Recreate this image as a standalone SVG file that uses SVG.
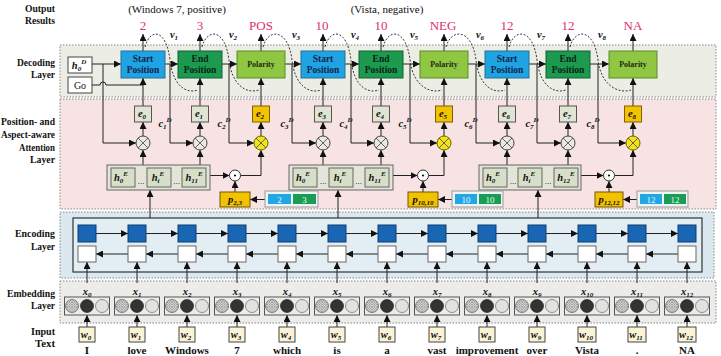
<svg xmlns="http://www.w3.org/2000/svg" xmlns:xlink="http://www.w3.org/1999/xlink" width="721" height="356" viewBox="0 0 721 356">
<style>
text{font-family:"Liberation Serif","Times New Roman",serif;fill:#111}
.lab{font-weight:bold;font-size:11px;text-anchor:end}
.out{font-size:13px;fill:#e0306a;text-anchor:middle}
.cap{font-size:11px;text-anchor:middle}
.bt{font-weight:bold;font-size:9.5px;text-anchor:middle;fill:#13254d}
.pt{font-weight:bold;font-size:8px;text-anchor:middle;fill:#1c2a10}
.m{font-style:italic;font-weight:bold;font-size:10.5px;text-anchor:middle}
.s{font-size:7px}
.wd{font-weight:bold;font-size:11px;text-anchor:middle}
.ln{stroke:#222;stroke-width:1;fill:none}
.ar{stroke:#222;stroke-width:1;fill:none;marker-end:url(#ah)}
.dc{stroke:#222;stroke-width:0.9;fill:none;stroke-dasharray:2 1.6}
.st{fill:#1fa3e2;stroke:#2b6f95}
.en{fill:#1c9b50;stroke:#145f33}
.po{fill:#8fc742;stroke:#5b8a27}
.eb{fill:#dfe4d3;stroke:#555}
.ey{fill:#f4c300;stroke:#7a6200}
.ot{fill:#e9e9e1;stroke:#444}
.oy{fill:#f2e21a;stroke:#6e6400}
.hg{fill:#e4e4d8;stroke:#666}
.hb{fill:#d8dfc8;stroke:#666}
.pb{fill:#f2c200;stroke:#6e5a00}
.layer{stroke:#888;stroke-width:1;stroke-dasharray:1.5 1.5}
</style>
<defs>
<marker id="ah" viewBox="0 0 10 10" refX="10" refY="5" markerWidth="7" markerHeight="7" orient="auto" markerUnits="userSpaceOnUse"><path d="M0,0 L10,5 L0,10 z" fill="#111"/></marker>
<pattern id="hatch" width="2.5" height="2.5" patternUnits="userSpaceOnUse"><rect width="2.5" height="2.5" fill="#e4e4e4"/><path d="M0,0 L2.5,2.5 M2.5,0 L0,2.5" stroke="#777" stroke-width="0.5"/></pattern>
<g id="emb"><rect x="-22.5" y="0" width="45" height="18" fill="#ecece8" stroke="#555"/><circle cx="-15" cy="9" r="6.5" fill="url(#hatch)" stroke="#555" stroke-width="0.7"/><circle cx="0" cy="9" r="6.5" fill="#333" stroke="#222" stroke-width="0.7"/><circle cx="15" cy="9" r="6.5" fill="#e2e2e2" stroke="#666" stroke-width="0.7"/></g>
<g id="ox"><path d="M-5,-5 L5,5 M5,-5 L-5,5" stroke="#555" stroke-width="0.9"/></g>
</defs>

<g id="layers">
<rect class="layer" x="60" y="45" width="656" height="52" fill="#eceee5"/>
<rect class="layer" x="60" y="99" width="656" height="110" fill="#f7e3e3"/>
<rect class="layer" x="60" y="212" width="654" height="66" fill="#dbe8f0"/>
<rect x="73" y="218" width="629" height="54" fill="#e3eef4" stroke="#333" stroke-width="1.2"/>
<rect class="layer" x="60" y="281" width="656" height="42" fill="#ececea"/>
</g>

<g id="labels">
<text class="lab" x="55" y="12" textLength="30" lengthAdjust="spacingAndGlyphs">Output</text>
<text class="lab" x="55" y="24" textLength="30" lengthAdjust="spacingAndGlyphs">Results</text>
<text class="lab" x="55" y="66" textLength="38" lengthAdjust="spacingAndGlyphs">Decoding</text>
<text class="lab" x="55" y="78" textLength="24" lengthAdjust="spacingAndGlyphs">Layer</text>
<text class="lab" x="55" y="125" textLength="54" lengthAdjust="spacingAndGlyphs">Position- and</text>
<text class="lab" x="55" y="138" textLength="54" lengthAdjust="spacingAndGlyphs">Aspect-aware</text>
<text class="lab" x="55" y="151" textLength="36" lengthAdjust="spacingAndGlyphs">Attention</text>
<text class="lab" x="55" y="163" textLength="25" lengthAdjust="spacingAndGlyphs">Layer</text>
<text class="lab" x="55" y="237" textLength="40" lengthAdjust="spacingAndGlyphs">Encoding</text>
<text class="lab" x="55" y="250" textLength="24" lengthAdjust="spacingAndGlyphs">Layer</text>
<text class="lab" x="55" y="297" textLength="48" lengthAdjust="spacingAndGlyphs">Embedding</text>
<text class="lab" x="55" y="309" textLength="24" lengthAdjust="spacingAndGlyphs">Layer</text>
<text class="lab" x="55" y="335" textLength="24" lengthAdjust="spacingAndGlyphs">Input</text>
<text class="lab" x="55" y="347" textLength="20" lengthAdjust="spacingAndGlyphs">Text</text>
<text class="cap" x="177" y="13">(Windows 7, positive)</text>
<text class="cap" x="387" y="13">(Vista, negative)</text>
<text class="out" x="143" y="30">2</text>
<text class="out" x="200" y="30">3</text>
<text class="out" x="261" y="30">POS</text>
<text class="out" x="322" y="30">10</text>
<text class="out" x="381" y="30">10</text>
<text class="out" x="443" y="30">NEG</text>
<text class="out" x="507" y="30">12</text>
<text class="out" x="568" y="30">12</text>
<text class="out" x="633" y="30">NA</text>
</g>

<g id="connectors">
<path class="ar" d="M143,51 V34"/><path class="ar" d="M200,51 V34"/><path class="ar" d="M261,51 V34"/><path class="ar" d="M323,51 V34"/><path class="ar" d="M381,51 V34"/><path class="ar" d="M444,51 V34"/><path class="ar" d="M507,51 V34"/><path class="ar" d="M568,51 V34"/><path class="ar" d="M633,51 V34"/>
<path class="ar" d="M92,64 H121"/><path class="ar" d="M165,64 H178"/><path class="ar" d="M222,64 H237"/><path class="ar" d="M285,64 H301"/><path class="ar" d="M345,64 H359"/><path class="ar" d="M403,64 H420"/><path class="ar" d="M468,64 H485"/><path class="ar" d="M529,64 H546"/><path class="ar" d="M590,64 H609"/>
<path class="ln" d="M92,85 H100 A3,3 0 0 1 106,85 H143"/>
<path class="ar" d="M103,64 V143 H136"/>
<path class="ar" d="M170,64 V143 H193"/>
<path class="ar" d="M229,64 V143 H254"/>
<path class="ar" d="M292,64 V143 H316"/>
<path class="ar" d="M351,64 V143 H374"/>
<path class="ar" d="M410,64 V143 H437"/>
<path class="ar" d="M476,64 V143 H500"/>
<path class="ar" d="M537,64 V143 H561"/>
<path class="ar" d="M598,64 V143 H626"/>
<path class="ar" d="M143,106 V78"/><path class="ar" d="M200,106 V78"/><path class="ar" d="M261,106 V78"/><path class="ar" d="M323,106 V78"/><path class="ar" d="M381,106 V78"/><path class="ar" d="M444,106 V78"/><path class="ar" d="M507,106 V78"/><path class="ar" d="M568,106 V78"/><path class="ar" d="M633,106 V78"/>
<path class="ar" d="M143,136 V122"/><path class="ar" d="M200,136 V122"/><path class="ar" d="M261,136 V122"/><path class="ar" d="M323,136 V122"/><path class="ar" d="M381,136 V122"/><path class="ar" d="M444,136 V122"/><path class="ar" d="M507,136 V122"/><path class="ar" d="M568,136 V122"/><path class="ar" d="M633,136 V122"/>
<path class="ar" d="M143,165 V150"/><path class="ar" d="M200,165 V150"/><path class="ar" d="M323,165 V150"/><path class="ar" d="M381,165 V150"/><path class="ar" d="M507,165 V150"/><path class="ar" d="M568,165 V150"/>
<path class="ar" d="M210,175.5 H229.5"/><path class="ar" d="M393,175.5 H417.5"/><path class="ar" d="M581,175.5 H603.5"/>
<path class="ar" d="M240.5,175.5 H261 V150"/><path class="ar" d="M428.5,175.5 H444 V150"/><path class="ar" d="M614.5,175.5 H633 V150"/>
<path class="ar" d="M235,192 V181"/><path class="ar" d="M423,192 V181"/><path class="ar" d="M609,192 V181"/>
<path class="ar" d="M265,199.5 H250"/><path class="ar" d="M452,199.5 H438"/><path class="ar" d="M637,199.5 H623"/>
<path class="ar" d="M150,218 V190"/><path class="ar" d="M338,218 V190"/><path class="ar" d="M538,218 V190"/>
<path class="ar" d="M96,233.5 H128"/><path class="ar" d="M146,233.5 H178"/><path class="ar" d="M196,233.5 H228"/><path class="ar" d="M246,233.5 H278"/><path class="ar" d="M296,233.5 H328"/><path class="ar" d="M346,233.5 H378"/><path class="ar" d="M396,233.5 H428"/><path class="ar" d="M446,233.5 H478"/><path class="ar" d="M496,233.5 H528"/><path class="ar" d="M546,233.5 H578"/><path class="ar" d="M596,233.5 H628"/><path class="ar" d="M646,233.5 H678"/>
<path class="ar" d="M128,254 H96"/><path class="ar" d="M178,254 H146"/><path class="ar" d="M228,254 H196"/><path class="ar" d="M278,254 H246"/><path class="ar" d="M328,254 H296"/><path class="ar" d="M378,254 H346"/><path class="ar" d="M428,254 H396"/><path class="ar" d="M478,254 H446"/><path class="ar" d="M528,254 H496"/><path class="ar" d="M578,254 H546"/><path class="ar" d="M628,254 H596"/><path class="ar" d="M678,254 H646"/>
<path class="ar" d="M87,283 V262"/><path class="ar" d="M137,283 V262"/><path class="ar" d="M187,283 V262"/><path class="ar" d="M237,283 V262"/><path class="ar" d="M287,283 V262"/><path class="ar" d="M337,283 V262"/><path class="ar" d="M387,283 V262"/><path class="ar" d="M437,283 V262"/><path class="ar" d="M487,283 V262"/><path class="ar" d="M537,283 V262"/><path class="ar" d="M587,283 V262"/><path class="ar" d="M637,283 V262"/><path class="ar" d="M687,283 V262"/>
<path class="ar" d="M87,327 V315"/><path class="ar" d="M137,327 V315"/><path class="ar" d="M187,327 V315"/><path class="ar" d="M237,327 V315"/><path class="ar" d="M287,327 V315"/><path class="ar" d="M337,327 V315"/><path class="ar" d="M387,327 V315"/><path class="ar" d="M437,327 V315"/><path class="ar" d="M487,327 V315"/><path class="ar" d="M537,327 V315"/><path class="ar" d="M587,327 V315"/><path class="ar" d="M637,327 V315"/><path class="ar" d="M687,327 V315"/>
<text class="m" x="165" y="127">c<tspan class="s" dy="2">1</tspan><tspan class="s" dy="-7">D</tspan></text>
<text class="m" x="224" y="127">c<tspan class="s" dy="2">2</tspan><tspan class="s" dy="-7">D</tspan></text>
<text class="m" x="287" y="127">c<tspan class="s" dy="2">3</tspan><tspan class="s" dy="-7">D</tspan></text>
<text class="m" x="346" y="127">c<tspan class="s" dy="2">4</tspan><tspan class="s" dy="-7">D</tspan></text>
<text class="m" x="405" y="127">c<tspan class="s" dy="2">5</tspan><tspan class="s" dy="-7">D</tspan></text>
<text class="m" x="471" y="127">c<tspan class="s" dy="2">6</tspan><tspan class="s" dy="-7">D</tspan></text>
<text class="m" x="532" y="127">c<tspan class="s" dy="2">7</tspan><tspan class="s" dy="-7">D</tspan></text>
<text class="m" x="593" y="127">c<tspan class="s" dy="2">8</tspan><tspan class="s" dy="-7">D</tspan></text>
</g>

<g id="decoder-start">
<rect x="68" y="57" width="24" height="16" fill="#fff" stroke="#444"/>
<text class="m" x="79" y="69">h<tspan class="s" dy="2">0</tspan><tspan class="s" dy="-7">D</tspan></text>
<rect x="68" y="77" width="24" height="16" fill="#fff" stroke="#444"/>
<text x="80" y="89" style="font-size:10px;text-anchor:middle">Go</text>
</g>

<g id="decoder-boxes">
<g id="d1"><rect class="st" x="121" y="51" width="44" height="27"/><text class="bt" x="143" y="62">Start</text><text class="bt" x="143" y="73">Position</text></g>
<g id="d2"><rect class="en" x="178" y="51" width="44" height="27"/><text class="bt" x="200" y="62" style="fill:#0b2414">End</text><text class="bt" x="200" y="73" style="fill:#0b2414">Position</text></g>
<g id="d3"><rect class="po" x="237" y="51" width="48" height="27"/><text class="pt" x="261" y="67">Polarity</text></g>
<g id="d4"><rect class="st" x="301" y="51" width="44" height="27"/><text class="bt" x="323" y="62">Start</text><text class="bt" x="323" y="73">Position</text></g>
<g id="d5"><rect class="en" x="359" y="51" width="44" height="27"/><text class="bt" x="381" y="62" style="fill:#0b2414">End</text><text class="bt" x="381" y="73" style="fill:#0b2414">Position</text></g>
<g id="d6"><rect class="po" x="420" y="51" width="48" height="27"/><text class="pt" x="444" y="67">Polarity</text></g>
<g id="d7"><rect class="st" x="485" y="51" width="44" height="27"/><text class="bt" x="507" y="62">Start</text><text class="bt" x="507" y="73">Position</text></g>
<g id="d8"><rect class="en" x="546" y="51" width="44" height="27"/><text class="bt" x="568" y="62" style="fill:#0b2414">End</text><text class="bt" x="568" y="73" style="fill:#0b2414">Position</text></g>
<g id="d9"><rect class="po" x="609" y="51" width="48" height="27"/><text class="pt" x="633" y="67">Polarity</text></g>
</g>

<g id="v-curves">
<path class="dc" d="M145,47 C150,28 166,28 170,60 C173,86 186,94 198,90"/>
<path class="dc" d="M202,47 C207,28 225,28 229,60 C232,86 247,94 259,90"/>
<path class="dc" d="M263,47 C268,28 288,28 292,60 C295,86 309,94 321,90"/>
<path class="dc" d="M325,47 C330,28 347,28 351,60 C354,86 367,94 379,90"/>
<path class="dc" d="M383,47 C388,28 406,28 410,60 C413,86 430,94 442,90"/>
<path class="dc" d="M446,47 C451,28 472,28 476,60 C479,86 493,94 505,90"/>
<path class="dc" d="M509,47 C514,28 533,28 537,60 C540,86 554,94 566,90"/>
<path class="dc" d="M570,47 C575,28 594,28 598,60 C601,86 619,94 631,90"/>
<text class="m" x="174" y="38">v<tspan class="s" dy="2">1</tspan></text>
<text class="m" x="233" y="38">v<tspan class="s" dy="2">2</tspan></text>
<text class="m" x="296" y="38">v<tspan class="s" dy="2">3</tspan></text>
<text class="m" x="355" y="38">v<tspan class="s" dy="2">4</tspan></text>
<text class="m" x="414" y="38">v<tspan class="s" dy="2">5</tspan></text>
<text class="m" x="480" y="38">v<tspan class="s" dy="2">6</tspan></text>
<text class="m" x="541" y="38">v<tspan class="s" dy="2">7</tspan></text>
<text class="m" x="602" y="38">v<tspan class="s" dy="2">8</tspan></text>
</g>

<g id="e-nodes">
<g id="e0"><rect class="eb" x="134.5" y="106" width="17" height="16"/><text class="m" x="142" y="117">e<tspan class="s" dy="2">0</tspan></text></g>
<g id="e1"><rect class="eb" x="191.5" y="106" width="17" height="16"/><text class="m" x="199" y="117">e<tspan class="s" dy="2">1</tspan></text></g>
<g id="e2"><rect class="ey" x="252.5" y="106" width="17" height="16"/><text class="m" x="260" y="117">e<tspan class="s" dy="2">2</tspan></text></g>
<g id="e3"><rect class="eb" x="314.5" y="106" width="17" height="16"/><text class="m" x="322" y="117">e<tspan class="s" dy="2">3</tspan></text></g>
<g id="e4"><rect class="eb" x="372.5" y="106" width="17" height="16"/><text class="m" x="380" y="117">e<tspan class="s" dy="2">4</tspan></text></g>
<g id="e5"><rect class="ey" x="435.5" y="106" width="17" height="16"/><text class="m" x="443" y="117">e<tspan class="s" dy="2">5</tspan></text></g>
<g id="e6"><rect class="eb" x="498.5" y="106" width="17" height="16"/><text class="m" x="506" y="117">e<tspan class="s" dy="2">6</tspan></text></g>
<g id="e7"><rect class="eb" x="559.5" y="106" width="17" height="16"/><text class="m" x="567" y="117">e<tspan class="s" dy="2">7</tspan></text></g>
<g id="e8"><rect class="ey" x="624.5" y="106" width="17" height="16"/><text class="m" x="632" y="117">e<tspan class="s" dy="2">8</tspan></text></g>
</g>

<g id="otimes">
<g id="x0" transform="translate(143,143)"><circle class="ot" r="7"/><use href="#ox"/></g>
<g id="x1" transform="translate(200,143)"><circle class="ot" r="7"/><use href="#ox"/></g>
<g id="x2" transform="translate(261,143)"><circle class="oy" r="7"/><use href="#ox"/></g>
<g id="x3" transform="translate(323,143)"><circle class="ot" r="7"/><use href="#ox"/></g>
<g id="x4" transform="translate(381,143)"><circle class="ot" r="7"/><use href="#ox"/></g>
<g id="x5" transform="translate(444,143)"><circle class="oy" r="7"/><use href="#ox"/></g>
<g id="x6" transform="translate(507,143)"><circle class="ot" r="7"/><use href="#ox"/></g>
<g id="x7" transform="translate(568,143)"><circle class="ot" r="7"/><use href="#ox"/></g>
<g id="x8" transform="translate(633,143)"><circle class="oy" r="7"/><use href="#ox"/></g>
</g>

<g id="h-group-1">
<rect class="hg" x="107" y="165" width="103" height="25"/>
<rect class="hb" x="111" y="168" width="24" height="19"/><text class="m" x="121" y="181">h<tspan class="s" dy="2">0</tspan><tspan class="s" dy="-7">E</tspan></text>
<text x="141" y="184" style="font-size:9px;text-anchor:middle">...</text>
<rect class="hb" x="147" y="168" width="24" height="19"/><text class="m" x="158" y="181">h<tspan class="s" dy="2">i</tspan><tspan class="s" dy="-7">E</tspan></text>
<text x="176.5" y="184" style="font-size:9px;text-anchor:middle">...</text>
<rect class="hb" x="182" y="168" width="24" height="19"/><text class="m" x="194" y="181">h<tspan class="s" dy="2">11</tspan><tspan class="s" dy="-7">E</tspan></text>
</g>
<g id="h-group-2">
<rect class="hg" x="289" y="165" width="104" height="25"/>
<rect class="hb" x="293" y="168" width="24" height="19"/><text class="m" x="303" y="181">h<tspan class="s" dy="2">0</tspan><tspan class="s" dy="-7">E</tspan></text>
<text x="323" y="184" style="font-size:9px;text-anchor:middle">...</text>
<rect class="hb" x="329" y="168" width="24" height="19"/><text class="m" x="340" y="181">h<tspan class="s" dy="2">i</tspan><tspan class="s" dy="-7">E</tspan></text>
<text x="358.5" y="184" style="font-size:9px;text-anchor:middle">...</text>
<rect class="hb" x="365" y="168" width="24" height="19"/><text class="m" x="377" y="181">h<tspan class="s" dy="2">11</tspan><tspan class="s" dy="-7">E</tspan></text>
</g>
<g id="h-group-3">
<rect class="hg" x="479" y="165" width="102" height="25"/>
<rect class="hb" x="483" y="168" width="24" height="19"/><text class="m" x="493" y="181">h<tspan class="s" dy="2">0</tspan><tspan class="s" dy="-7">E</tspan></text>
<text x="513" y="184" style="font-size:9px;text-anchor:middle">...</text>
<rect class="hb" x="518" y="168" width="24" height="19"/><text class="m" x="529" y="181">h<tspan class="s" dy="2">i</tspan><tspan class="s" dy="-7">E</tspan></text>
<text x="548" y="184" style="font-size:9px;text-anchor:middle">...</text>
<rect class="hb" x="554" y="168" width="24" height="19"/><text class="m" x="566" y="181">h<tspan class="s" dy="2">12</tspan><tspan class="s" dy="-7">E</tspan></text>
</g>

<g id="odots">
<g id="od1"><circle cx="235" cy="175.5" r="5.5" fill="#fff" stroke="#333"/><circle cx="235" cy="175.5" r="1.1" fill="#111"/></g>
<g id="od2"><circle cx="423" cy="175.5" r="5.5" fill="#fff" stroke="#333"/><circle cx="423" cy="175.5" r="1.1" fill="#111"/></g>
<g id="od3"><circle cx="609" cy="175.5" r="5.5" fill="#fff" stroke="#333"/><circle cx="609" cy="175.5" r="1.1" fill="#111"/></g>
</g>

<g id="p-nodes">
<g id="p1"><rect class="pb" x="220" y="192" width="30" height="15"/><text class="m" x="235" y="203">p<tspan class="s" dy="2">2,3</tspan></text></g>
<g id="p2"><rect class="pb" x="408" y="192" width="30" height="15"/><text class="m" x="423" y="203">p<tspan class="s" dy="2">10,10</tspan></text></g>
<g id="p3"><rect class="pb" x="595" y="192" width="28" height="15"/><text class="m" x="609" y="203">p<tspan class="s" dy="2">12,12</tspan></text></g>
</g>

<g id="pairs">
<g id="pair1"><rect x="265" y="191" width="53" height="16" fill="#eef3f3" stroke="#999"/><rect x="268" y="194" width="23" height="10" fill="#22a7e3"/><rect x="293" y="194" width="23" height="10" fill="#1a9c55"/><text x="279.5" y="202.5" style="font-size:9px;text-anchor:middle;fill:#e8f6ff">2</text><text x="304.5" y="202.5" style="font-size:9px;text-anchor:middle;fill:#e8ffee">3</text></g>
<g id="pair2"><rect x="452" y="191" width="51" height="16" fill="#eef3f3" stroke="#999"/><rect x="455" y="194" width="22" height="10" fill="#22a7e3"/><rect x="479" y="194" width="22" height="10" fill="#1a9c55"/><text x="466" y="202.5" style="font-size:9px;text-anchor:middle;fill:#e8f6ff">10</text><text x="490" y="202.5" style="font-size:9px;text-anchor:middle;fill:#e8ffee">10</text></g>
<g id="pair3"><rect x="637" y="191" width="51" height="16" fill="#eef3f3" stroke="#999"/><rect x="640" y="194" width="22" height="10" fill="#22a7e3"/><rect x="664" y="194" width="22" height="10" fill="#1a9c55"/><text x="651" y="202.5" style="font-size:9px;text-anchor:middle;fill:#e8f6ff">12</text><text x="675" y="202.5" style="font-size:9px;text-anchor:middle;fill:#e8ffee">12</text></g>
</g>

<g id="encoder-cells">
<g id="enc0"><rect x="78" y="225" width="18" height="17" fill="#1866b4" stroke="#0e3f70"/><rect x="78" y="246" width="18" height="16" fill="#fff" stroke="#666"/></g>
<g id="enc1"><rect x="128" y="225" width="18" height="17" fill="#1866b4" stroke="#0e3f70"/><rect x="128" y="246" width="18" height="16" fill="#fff" stroke="#666"/></g>
<g id="enc2"><rect x="178" y="225" width="18" height="17" fill="#1866b4" stroke="#0e3f70"/><rect x="178" y="246" width="18" height="16" fill="#fff" stroke="#666"/></g>
<g id="enc3"><rect x="228" y="225" width="18" height="17" fill="#1866b4" stroke="#0e3f70"/><rect x="228" y="246" width="18" height="16" fill="#fff" stroke="#666"/></g>
<g id="enc4"><rect x="278" y="225" width="18" height="17" fill="#1866b4" stroke="#0e3f70"/><rect x="278" y="246" width="18" height="16" fill="#fff" stroke="#666"/></g>
<g id="enc5"><rect x="328" y="225" width="18" height="17" fill="#1866b4" stroke="#0e3f70"/><rect x="328" y="246" width="18" height="16" fill="#fff" stroke="#666"/></g>
<g id="enc6"><rect x="378" y="225" width="18" height="17" fill="#1866b4" stroke="#0e3f70"/><rect x="378" y="246" width="18" height="16" fill="#fff" stroke="#666"/></g>
<g id="enc7"><rect x="428" y="225" width="18" height="17" fill="#1866b4" stroke="#0e3f70"/><rect x="428" y="246" width="18" height="16" fill="#fff" stroke="#666"/></g>
<g id="enc8"><rect x="478" y="225" width="18" height="17" fill="#1866b4" stroke="#0e3f70"/><rect x="478" y="246" width="18" height="16" fill="#fff" stroke="#666"/></g>
<g id="enc9"><rect x="528" y="225" width="18" height="17" fill="#1866b4" stroke="#0e3f70"/><rect x="528" y="246" width="18" height="16" fill="#fff" stroke="#666"/></g>
<g id="enc10"><rect x="578" y="225" width="18" height="17" fill="#1866b4" stroke="#0e3f70"/><rect x="578" y="246" width="18" height="16" fill="#fff" stroke="#666"/></g>
<g id="enc11"><rect x="628" y="225" width="18" height="17" fill="#1866b4" stroke="#0e3f70"/><rect x="628" y="246" width="18" height="16" fill="#fff" stroke="#666"/></g>
<g id="enc12"><rect x="678" y="225" width="18" height="17" fill="#1866b4" stroke="#0e3f70"/><rect x="678" y="246" width="18" height="16" fill="#fff" stroke="#666"/></g>
</g>

<g id="embeddings">
<g id="emb0"><use href="#emb" x="87" y="297"/><text class="m" x="87" y="295">x<tspan class="s" dy="2">0</tspan></text></g>
<g id="emb1"><use href="#emb" x="137" y="297"/><text class="m" x="137" y="295">x<tspan class="s" dy="2">1</tspan></text></g>
<g id="emb2"><use href="#emb" x="187" y="297"/><text class="m" x="187" y="295">x<tspan class="s" dy="2">2</tspan></text></g>
<g id="emb3"><use href="#emb" x="237" y="297"/><text class="m" x="237" y="295">x<tspan class="s" dy="2">3</tspan></text></g>
<g id="emb4"><use href="#emb" x="287" y="297"/><text class="m" x="287" y="295">x<tspan class="s" dy="2">4</tspan></text></g>
<g id="emb5"><use href="#emb" x="337" y="297"/><text class="m" x="337" y="295">x<tspan class="s" dy="2">5</tspan></text></g>
<g id="emb6"><use href="#emb" x="387" y="297"/><text class="m" x="387" y="295">x<tspan class="s" dy="2">6</tspan></text></g>
<g id="emb7"><use href="#emb" x="437" y="297"/><text class="m" x="437" y="295">x<tspan class="s" dy="2">7</tspan></text></g>
<g id="emb8"><use href="#emb" x="487" y="297"/><text class="m" x="487" y="295">x<tspan class="s" dy="2">8</tspan></text></g>
<g id="emb9"><use href="#emb" x="537" y="297"/><text class="m" x="537" y="295">x<tspan class="s" dy="2">9</tspan></text></g>
<g id="emb10"><use href="#emb" x="587" y="297"/><text class="m" x="587" y="295">x<tspan class="s" dy="2">10</tspan></text></g>
<g id="emb11"><use href="#emb" x="637" y="297"/><text class="m" x="637" y="295">x<tspan class="s" dy="2">11</tspan></text></g>
<g id="emb12"><use href="#emb" x="687" y="297"/><text class="m" x="687" y="295">x<tspan class="s" dy="2">12</tspan></text></g>
</g>

<g id="words">
<g id="w0"><rect x="79" y="327" width="16" height="15" fill="#fbf3d6" stroke="#444"/><text class="m" x="86" y="338">w<tspan class="s" dy="2">0</tspan></text><text class="wd" x="87" y="354">I</text></g>
<g id="w1"><rect x="129" y="327" width="16" height="15" fill="#fbf3d6" stroke="#444"/><text class="m" x="136" y="338">w<tspan class="s" dy="2">1</tspan></text><text class="wd" x="137" y="354">love</text></g>
<g id="w2"><rect x="179" y="327" width="16" height="15" fill="#fbf3d6" stroke="#444"/><text class="m" x="186" y="338">w<tspan class="s" dy="2">2</tspan></text><text class="wd" x="187" y="354">Windows</text></g>
<g id="w3"><rect x="229" y="327" width="16" height="15" fill="#fbf3d6" stroke="#444"/><text class="m" x="236" y="338">w<tspan class="s" dy="2">3</tspan></text><text class="wd" x="237" y="354">7</text></g>
<g id="w4"><rect x="279" y="327" width="16" height="15" fill="#fbf3d6" stroke="#444"/><text class="m" x="286" y="338">w<tspan class="s" dy="2">4</tspan></text><text class="wd" x="287" y="354">which</text></g>
<g id="w5"><rect x="329" y="327" width="16" height="15" fill="#fbf3d6" stroke="#444"/><text class="m" x="336" y="338">w<tspan class="s" dy="2">5</tspan></text><text class="wd" x="337" y="354">is</text></g>
<g id="w6"><rect x="379" y="327" width="16" height="15" fill="#fbf3d6" stroke="#444"/><text class="m" x="386" y="338">w<tspan class="s" dy="2">6</tspan></text><text class="wd" x="387" y="354">a</text></g>
<g id="w7"><rect x="429" y="327" width="16" height="15" fill="#fbf3d6" stroke="#444"/><text class="m" x="436" y="338">w<tspan class="s" dy="2">7</tspan></text><text class="wd" x="437" y="354">vast</text></g>
<g id="w8"><rect x="479" y="327" width="16" height="15" fill="#fbf3d6" stroke="#444"/><text class="m" x="486" y="338">w<tspan class="s" dy="2">8</tspan></text><text class="wd" x="487" y="354">improvement</text></g>
<g id="w9"><rect x="529" y="327" width="16" height="15" fill="#fbf3d6" stroke="#444"/><text class="m" x="536" y="338">w<tspan class="s" dy="2">9</tspan></text><text class="wd" x="537" y="354">over</text></g>
<g id="w10"><rect x="578" y="327" width="18" height="15" fill="#fbf3d6" stroke="#444"/><text class="m" x="586" y="338">w<tspan class="s" dy="2">10</tspan></text><text class="wd" x="587" y="354">Vista</text></g>
<g id="w11"><rect x="628" y="327" width="18" height="15" fill="#fbf3d6" stroke="#444"/><text class="m" x="636" y="338">w<tspan class="s" dy="2">11</tspan></text><text class="wd" x="637" y="354">.</text></g>
<g id="w12"><rect x="678" y="327" width="18" height="15" fill="#fbf3d6" stroke="#444"/><text class="m" x="686" y="338">w<tspan class="s" dy="2">12</tspan></text><text class="wd" x="687" y="354">NA</text></g>
</g>
</svg>
